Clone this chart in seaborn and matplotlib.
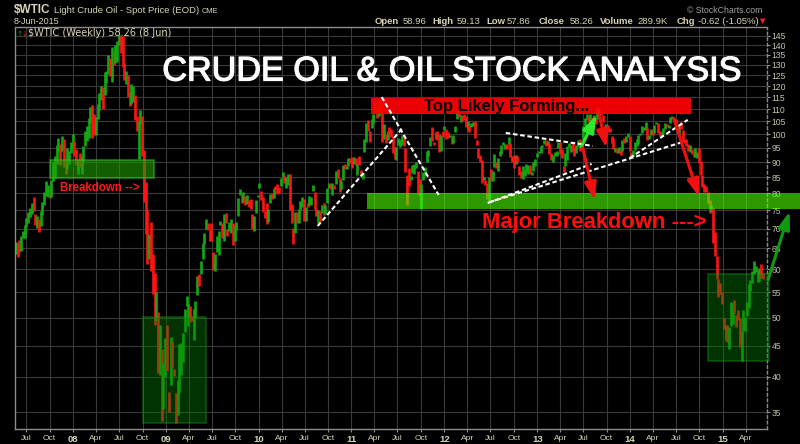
"""
Weekly $WTIC bars (May 2007 - Jun 2015) with the analysis overlay:
support band, top zone, trend lines and arrows.
"""

import numpy as np
import pandas as pd
import matplotlib
matplotlib.use("Agg")
import matplotlib.pyplot as plt
import matplotlib.dates as mdates
import matplotlib.patheffects as pe
from matplotlib.patches import Rectangle
from matplotlib.ticker import FixedLocator, FuncFormatter, NullLocator
import seaborn as sns

# one bar per Monday, 21 May 2007 .. 8 Jun 2015
FIRST_WEEK = "2007-05-21"

week_high = [
    # 2007
    66.5, 66.0, 67.0, 68.1, 69.4, 71.0, 72.9, 74.5, 75.7, 77.2, 78.8, 74.0, 73.5, 72.5, 74.7, 77.5, 80.4,
    83.9, 82.7, 81.7, 84.0, 90.1, 92.2, 96.2, 98.6, 96.5, 99.3, 98.2, 90.3, 94.8, 93.9, 97.0, 100.1,
    # 2008
    97.4, 94.5, 91.0, 93.0, 92.2, 95.8, 101.3, 103.0, 106.5, 111.0, 111.8, 107.9, 106.6, 112.2, 117.0,
    119.9, 119.5, 126.3, 127.0, 135.1, 133.3, 139.1, 136.8, 139.9, 142.0, 145.3, 145.1, 145.2, 131.0,
    127.0, 125.0, 117.5, 121.0, 120.0, 116.1, 107.0, 105.0, 109.5, 107.0, 94.1, 83.5, 75.0, 68.5, 71.9,
    63.5, 59.1, 55.0, 51.0, 48.6, 44.5, 42.1, 46.3,
    # 2009
    48.6, 37.8, 46.5, 45.7, 41.2, 37.6, 39.5, 45.2, 45.5, 47.1, 51.6, 54.3, 52.6, 52.2, 50.3, 51.6, 53.2,
    58.6, 58.9, 62.0, 66.3, 68.8, 72.7, 71.4, 69.7, 71.5, 64.1, 63.6, 68.1, 69.5, 72.0, 71.4, 73.9, 74.4,
    70.0, 71.9, 72.5, 71.6, 70.8, 71.8, 78.5, 81.4, 79.9, 80.4, 79.2, 79.6, 78.0, 78.4, 73.9, 73.4, 78.1,
    79.4,
    # 2010
    83.2, 80.8, 79.0, 74.7, 77.2, 75.3, 79.8, 80.2, 81.5, 82.1, 82.9, 81.9, 84.9, 86.8, 85.8, 85.1, 86.2,
    86.2, 76.8, 70.1, 74.6, 74.6, 75.5, 77.7, 78.9, 78.3, 76.1, 77.1, 79.1, 79.0, 82.6, 80.3, 75.8, 75.2,
    74.9, 76.5, 77.2, 76.5, 81.6, 83.2, 83.0, 83.1, 82.6, 86.9, 87.8, 84.9, 83.9, 89.2, 89.4, 88.6, 91.5,
    91.4,
    # 2011
    91.6, 91.9, 91.4, 89.3, 92.2, 87.5, 86.4, 98.1, 104.4, 105.4, 101.4, 105.8, 107.9, 112.8, 109.9,
    112.3, 113.9, 113.5, 103.9, 100.1, 101.3, 102.7, 101.9, 99.4, 95.4, 95.4, 98.7, 98.1, 99.9, 99.6,
    94.9, 85.7, 87.9, 85.4, 88.9, 89.3, 90.2, 86.9, 84.5, 83.0, 86.8, 88.3, 94.0, 94.3, 99.0, 102.6,
    97.0, 101.0, 101.3, 100.1, 99.7, 101.3,
    # 2012
    103.2, 102.2, 100.7, 99.7, 98.8, 99.8, 103.2, 109.8, 108.8, 107.4, 107.1, 108.1, 107.3, 105.2, 103.6,
    104.2, 104.9, 105.2, 97.9, 94.8, 92.6, 90.8, 85.0, 84.0, 83.3, 85.0, 87.7, 87.1, 92.7, 90.1, 91.4,
    93.7, 96.0, 97.3, 96.5, 96.4, 99.0, 96.6, 92.2, 92.5, 92.4, 92.1, 88.7, 87.1, 88.7, 86.9, 89.3, 88.9,
    89.1, 86.8, 90.1, 91.0, 93.1,
    # 2013
    93.8, 95.6, 96.2, 97.9, 97.8, 97.5, 96.7, 93.1, 92.6, 93.5, 93.7, 97.2, 97.2, 94.6, 88.8, 93.0, 95.6,
    96.6, 96.0, 96.7, 95.0, 96.0, 97.9, 98.4, 97.1, 103.2, 106.5, 108.1, 107.2, 107.9, 106.6, 107.5,
    106.4, 110.1, 110.5, 110.0, 107.4, 103.6, 104.1, 103.5, 102.3, 99.2, 98.7, 95.0, 95.1, 95.4, 94.1,
    97.7, 98.5, 99.3, 100.3, 99.3,
    # 2014
    93.4, 94.4, 97.3, 98.2, 99.9, 100.4, 103.3, 102.8, 104.9, 102.4, 99.7, 102.0, 101.6, 103.7, 104.8,
    104.4, 101.3, 101.0, 102.4, 104.4, 104.1, 103.7, 106.9, 107.3, 106.5, 106.1, 103.5, 103.2, 104.6,
    101.7, 98.3, 98.1, 96.4, 96.0, 94.5, 93.3, 94.9, 93.5, 95.0, 90.3, 85.7, 82.8, 82.2, 80.5, 77.9,
    76.6, 75.8, 69.0, 63.1, 57.9, 57.1, 55.0,
    # 2015
    50.0, 48.7, 48.7, 48.2, 53.1, 52.8, 53.5, 50.5, 51.5, 50.0, 47.5, 51.4, 50.1, 53.0, 56.7, 57.7, 59.6,
    62.0, 60.8, 59.7, 60.3, 61.3, 59.1,
]

week_low = [
    # 2007
    63.6, 62.9, 64.2, 64.3, 67.5, 67.6, 70.5, 71.5, 73.1, 73.9, 74.8, 71.0, 70.1, 69.0, 70.6, 73.7, 76.5,
    79.1, 79.0, 78.6, 79.0, 83.8, 84.8, 89.3, 94.0, 89.1, 94.0, 88.5, 86.2, 87.6, 89.3, 93.1, 95.0,
    # 2008
    92.0, 89.0, 86.1, 88.3, 86.1, 90.0, 95.5, 97.5, 98.7, 104.5, 98.6, 99.6, 99.6, 106.0, 109.6, 114.0,
    109.9, 116.0, 121.6, 125.6, 124.7, 122.0, 130.0, 131.0, 131.4, 140.0, 136.0, 128.9, 122.7, 121.0,
    115.2, 111.3, 112.2, 113.0, 105.5, 101.2, 91.2, 103.8, 92.0, 77.4, 68.6, 61.3, 62.3, 59.6, 54.7,
    48.7, 49.3, 40.5, 40.3, 33.9, 35.4, 39.9,
    # 2009
    40.8, 35.0, 38.7, 41.4, 40.1, 33.6, 34.6, 37.7, 40.2, 42.3, 47.4, 52.2, 48.4, 49.2, 49.4, 45.9, 49.9,
    54.5, 56.3, 59.0, 62.5, 66.1, 70.0, 69.6, 66.9, 66.7, 59.9, 59.7, 64.0, 63.4, 70.9, 67.5, 66.8, 71.4,
    68.0, 69.3, 68.9, 65.9, 66.7, 69.6, 73.3, 79.6, 77.0, 77.4, 76.4, 76.7, 76.0, 75.5, 69.9, 69.5, 74.4,
    78.8,
    # 2010
    81.5, 78.0, 74.5, 72.9, 71.2, 71.9, 77.0, 78.2, 78.7, 81.2, 79.8, 80.0, 82.2, 84.9, 83.2, 81.5, 82.4,
    75.1, 71.6, 66.0, 68.8, 71.5, 71.4, 75.1, 76.1, 72.1, 72.0, 75.9, 76.6, 76.6, 80.7, 75.4, 73.5, 71.6,
    71.9, 74.3, 73.7, 73.9, 77.2, 81.5, 81.3, 79.5, 81.4, 83.0, 84.9, 80.4, 81.3, 84.1, 87.8, 87.7, 88.8,
    89.8,
    # 2011
    88.0, 89.3, 88.9, 85.6, 89.0, 85.6, 84.3, 93.6, 97.0, 101.2, 97.2, 102.3, 104.3, 108.3, 106.3, 107.1,
    112.2, 97.2, 98.2, 96.9, 97.7, 100.2, 98.9, 93.0, 91.0, 90.6, 96.2, 95.2, 95.9, 95.7, 86.6, 76.5,
    82.3, 84.1, 86.5, 86.0, 88.0, 79.9, 79.2, 75.5, 84.2, 85.3, 90.2, 92.2, 95.5, 97.4, 96.2, 98.2, 97.8,
    93.5, 93.9, 98.8,
    # 2012
    101.6, 98.1, 98.5, 99.0, 96.4, 96.9, 100.7, 105.8, 106.6, 104.7, 105.1, 105.4, 102.8, 101.5, 101.0,
    102.7, 103.1, 98.5, 96.1, 91.5, 89.9, 83.2, 84.0, 82.6, 78.2, 77.7, 83.8, 83.9, 88.4, 88.1, 87.1,
    92.2, 92.7, 95.9, 94.6, 94.5, 96.5, 91.9, 90.0, 88.1, 89.3, 90.1, 85.7, 84.9, 84.4, 85.4, 86.8, 85.9,
    85.9, 85.6, 87.2, 88.6, 91.8,
    # 2013
    93.1, 93.3, 95.2, 96.4, 95.7, 95.9, 92.8, 90.7, 90.1, 92.0, 92.1, 94.8, 92.7, 91.3, 86.7, 88.8, 90.7,
    95.2, 93.5, 93.8, 92.0, 93.3, 95.4, 93.7, 95.2, 97.9, 103.1, 105.5, 104.7, 103.9, 104.4, 106.0,
    103.9, 105.9, 107.2, 107.5, 104.7, 102.0, 101.9, 101.0, 100.7, 96.9, 94.6, 93.4, 93.0, 93.3, 92.3,
    93.8, 96.6, 97.2, 98.9, 94.0,
    # 2014
    91.7, 91.8, 94.4, 95.7, 96.4, 99.9, 100.3, 101.8, 101.5, 98.0, 98.1, 99.6, 99.6, 100.4, 103.8, 100.6,
    99.4, 99.5, 100.6, 102.0, 102.7, 102.5, 104.3, 106.0, 105.4, 104.1, 100.8, 100.0, 102.1, 97.2, 96.9,
    95.6, 93.7, 93.4, 92.9, 91.6, 91.6, 91.5, 89.7, 85.8, 81.8, 80.5, 80.5, 77.2, 74.2, 74.6, 66.2, 63.1,
    57.8, 54.1, 54.7, 52.7,
    # 2015
    47.9, 45.9, 45.6, 44.5, 48.5, 48.8, 50.8, 48.2, 49.6, 44.8, 42.5, 47.5, 47.6, 50.4, 51.9, 55.3, 57.0,
    58.9, 59.4, 57.3, 57.5, 58.0, 57.9,
]

week_close = [
    # 2007
    65.2, 65.1, 64.8, 68.0, 69.2, 70.7, 72.8, 74.2, 75.6, 77.0, 75.5, 71.5, 72.0, 71.1, 74.0, 76.7, 79.1,
    81.6, 81.7, 81.2, 83.7, 88.6, 91.9, 95.9, 96.3, 95.1, 98.2, 88.7, 88.3, 91.3, 93.3, 96.0, 97.9,
    # 2008
    92.7, 90.6, 90.7, 89.0, 91.8, 95.5, 98.8, 101.8, 105.2, 110.2, 101.8, 101.6, 106.2, 110.1, 116.7,
    118.5, 116.3, 126.0, 126.3, 132.2, 127.4, 138.5, 134.9, 135.4, 140.2, 145.3, 145.1, 128.9, 123.3,
    125.1, 115.2, 113.8, 114.6, 115.5, 106.2, 101.2, 104.6, 106.9, 93.9, 77.7, 71.9, 64.2, 67.8, 61.0,
    57.0, 49.9, 54.4, 40.8, 46.3, 33.9, 37.7, 46.3,
    # 2009
    40.8, 36.5, 46.5, 41.7, 40.2, 37.5, 38.9, 44.8, 45.5, 46.3, 51.1, 52.4, 52.5, 52.2, 50.3, 51.6, 53.2,
    58.6, 56.3, 61.7, 66.3, 68.4, 72.0, 69.6, 69.2, 66.7, 59.9, 63.6, 68.1, 69.5, 70.9, 67.5, 73.9, 72.7,
    68.0, 69.3, 72.0, 66.0, 70.0, 71.8, 78.5, 80.5, 77.0, 77.4, 76.4, 76.7, 76.1, 75.5, 69.9, 73.4, 78.1,
    79.4,
    # 2010
    82.8, 78.0, 74.5, 72.9, 71.2, 74.1, 79.8, 79.7, 81.5, 81.2, 80.7, 80.0, 84.9, 84.9, 83.2, 85.1, 86.2,
    75.1, 71.6, 70.0, 74.0, 71.5, 73.8, 77.2, 78.9, 72.1, 76.1, 76.0, 79.0, 79.0, 80.7, 75.4, 73.5, 75.2,
    74.6, 76.5, 73.7, 76.5, 81.6, 82.7, 81.3, 81.7, 81.4, 86.9, 84.9, 81.5, 83.8, 89.2, 87.8, 88.0, 91.5,
    91.4,
    # 2011
    88.0, 91.5, 89.1, 89.3, 89.0, 85.6, 86.2, 97.9, 104.4, 101.2, 101.1, 105.4, 107.9, 112.8, 109.7,
    112.3, 113.9, 97.2, 99.7, 99.5, 100.6, 100.2, 99.3, 93.0, 91.2, 94.9, 96.2, 97.2, 99.9, 95.7, 86.9,
    85.4, 82.3, 85.4, 86.5, 87.2, 88.0, 79.9, 79.2, 83.0, 86.8, 87.4, 93.3, 94.3, 99.0, 97.4, 96.8, 101.0,
    99.4, 93.5, 99.7, 98.8,
    # 2012
    101.6, 98.7, 98.5, 99.6, 97.8, 98.7, 103.2, 109.8, 106.7, 107.4, 107.1, 106.9, 103.0, 103.3, 102.8,
    103.1, 104.9, 98.5, 96.1, 91.5, 90.9, 83.2, 84.1, 84.0, 79.8, 85.0, 84.5, 87.1, 91.8, 90.1, 91.4,
    92.9, 96.0, 96.2, 96.5, 96.4, 99.0, 92.9, 92.2, 89.9, 91.9, 90.1, 86.3, 84.9, 86.1, 86.9, 88.3, 88.9,
    85.9, 86.7, 88.7, 90.8, 93.1,
    # 2013
    93.6, 95.6, 95.9, 97.8, 95.7, 95.9, 93.1, 90.7, 92.0, 93.5, 93.7, 97.2, 92.7, 91.3, 88.0, 93.0, 95.6,
    96.0, 96.0, 93.8, 92.0, 96.0, 97.9, 93.7, 96.6, 103.2, 106.0, 108.1, 104.7, 106.9, 106.0, 107.5,
    106.4, 107.7, 110.5, 108.2, 104.7, 102.9, 103.8, 102.0, 100.8, 97.9, 94.6, 94.6, 93.8, 94.8, 92.7,
    97.7, 96.6, 99.3, 100.3, 94.0,
    # 2014
    92.7, 94.4, 96.6, 97.5, 99.9, 100.3, 102.2, 102.6, 102.6, 98.9, 99.5, 101.7, 101.1, 103.7, 104.3,
    100.6, 99.8, 100.0, 102.0, 104.4, 102.7, 102.7, 106.9, 107.3, 105.7, 104.1, 100.8, 103.1, 102.1,
    97.9, 97.7, 97.4, 93.7, 96.0, 93.3, 92.3, 92.4, 93.5, 89.7, 85.8, 82.8, 81.0, 80.5, 78.7, 75.8, 76.5,
    66.2, 65.8, 57.8, 57.1, 54.7, 52.7,
    # 2015
    48.4, 48.7, 45.6, 48.2, 51.7, 52.8, 50.8, 49.8, 49.6, 44.8, 45.7, 48.9, 49.1, 51.6, 55.7, 57.2, 59.2,
    59.4, 59.7, 59.7, 60.3, 59.1, 58.3,
]

price_ticks = list(range(35, 150, 5))

W, H = 800, 444
UP, DOWN = "#14a814", "#ff1414"
CREAM = "#d8d4b6"
FRAME = "#8c8c8c"


def dnum(s):
    return mdates.date2num(pd.Timestamp(s))


sns.set_theme(style="dark", rc={
    "figure.facecolor": "black",
    "axes.facecolor": "black",
    "axes.edgecolor": FRAME,
    "grid.color": "#3a3a3a",
})
plt.rcParams["font.family"] = ["Liberation Sans", "DejaVu Sans"]

fig = plt.figure(figsize=(W / 100, H / 100), dpi=100)
ax = fig.add_axes([15 / W, 1 - 429 / H, 752 / W, 401.5 / H])

weeks = pd.date_range(FIRST_WEEK, periods=len(week_close), freq="7D")
x = mdates.date2num(weeks.to_pydatetime())
close = np.array(week_close)
prev = np.r_[close[0], close[:-1]]
bar_colors = np.where(close >= prev, UP, DOWN)
ax.vlines(x, week_low, week_high, colors=bar_colors, lw=1.9, zorder=2)

ax.set_yscale("log")
ax.set_ylim(32.83, 149.7)
ax.set_xlim(dnum("2007-05-18"), dnum("2015-06-24"))

ax.yaxis.tick_right()
ax.yaxis.set_major_locator(FixedLocator(price_ticks))
ax.yaxis.set_major_formatter(FuncFormatter(lambda v, p: f"{v:.0f}"))
ax.yaxis.set_minor_locator(NullLocator())
ax.tick_params(axis="y", which="major", right=True, left=False, length=2, width=0.8,
               color=FRAME, pad=1.5, labelsize=6.2, labelcolor="#c4c2aa")

quarters = pd.date_range("2007-07-01", "2015-04-01", freq="QS-JAN")
ax.set_xticks(mdates.date2num(quarters.to_pydatetime()))
ax.set_xticklabels([f"{d:%y}" if d.month == 1 else f"{d:%b}" for d in quarters])
ax.tick_params(axis="x", bottom=True, length=2, width=0.8, color=FRAME, pad=2,
               labelsize=6, labelcolor=CREAM)
for lab, d in zip(ax.get_xticklabels(), quarters):
    if d.month == 1:
        lab.set_fontweight("bold")
        lab.set_fontsize(6.8)

ax.grid(True, color="#3a3a3a", lw=0.8)
ax.set_axisbelow(True)
for side in ["left", "bottom", "top", "right"]:
    ax.spines[side].set_color(FRAME)
    ax.spines[side].set_linewidth(1.0)
ax.spines["right"].set_linestyle((0, (2, 2)))


def box(d0, d1, p0, p1, **kw):
    r = Rectangle((dnum(d0), p0), dnum(d1) - dnum(d0), p1 - p0, **kw)
    ax.add_patch(r)


# shaded zones
box("2007-10-03", "2008-11-14", 84.9, 90.7, facecolor="#20a000", alpha=0.6,
    edgecolor="#2fbf2f", lw=1.2, zorder=3)
box("2008-10-01", "2009-06-06", 33.6, 50.1, facecolor="#008000", alpha=0.4,
    edgecolor="#1a9a1a", lw=1.3, zorder=3)
box("2014-11-02", "2015-07-02", 42.4, 58.9, facecolor="#008000", alpha=0.4,
    edgecolor="#1a9a1a", lw=1.3, zorder=3, clip_on=False)
box("2011-03-03", "2015-10-31", 75.3, 80.2, facecolor="#4cff00", alpha=0.6,
    lw=0, zorder=3, clip_on=False)
box("2011-03-18", "2014-08-28", 108.0, 114.7, facecolor="#ff0000", alpha=0.92,
    lw=0, zorder=3)

# trend lines
trend_lines = [
    (("2010-08-21", 70.7), ("2011-07-18", 102.0)),
    (("2011-04-30", 115.1), ("2011-12-10", 79.5)),
    (("2012-08-30", 100.5), ("2013-08-07", 95.7)),
    (("2012-06-20", 77.1), ("2013-08-03", 89.4)),
    (("2012-06-28", 77.4), ("2014-07-27", 97.1)),
    (("2013-12-31", 91.4), ("2014-08-16", 105.6)),
]
for (d0, p0), (d1, p1) in trend_lines:
    ax.plot([dnum(d0), dnum(d1)], [p0, p1], color="white", lw=1.5,
            ls=(0, (2.2, 1.3)), zorder=4)

# arrows
arrows = [
    (("2013-06-24", 95.4), ("2013-08-22", 107.6), "#2ee82e"),
    (("2013-06-29", 95.0), ("2013-08-15", 78.0), "#f01010"),
    (("2013-08-28", 110.0), ("2013-09-30", 95.0), "#f01010"),
    (("2014-06-22", 106.2), ("2014-09-29", 79.0), "#f01010"),
    (("2015-06-28", 57.7), ("2015-09-21", 74.7), "#119a11"),
]
for (d0, p0), (d1, p1), c in arrows:
    ax.annotate("", xy=(dnum(d1), p1), xytext=(dnum(d0), p0), annotation_clip=False,
                arrowprops=dict(arrowstyle="-|>,head_length=0.65,head_width=0.22",
                                mutation_scale=16, lw=2.2, color=c,
                                shrinkA=0, shrinkB=0),
                zorder=5)

ax.text(dnum("2011-10-12"), 109.0, "Top Likely Forming...", color="black",
        fontsize=12, fontweight="bold", ha="left", va="baseline", zorder=6)
ax.text(dnum("2012-05-28"), 70.1, "Major Breakdown --->", color="#ff0d0d",
        fontsize=15.8, fontweight="bold", ha="left", va="baseline", zorder=6)
ax.text(dnum("2007-11-11"), 80.8, "Breakdown -->", color="#ff1a1a",
        fontsize=8.3, fontweight="bold", ha="left", va="baseline", zorder=6)


def ftext(px, py, s, **kw):
    return fig.text(px / W, 1 - py / H, s, va="baseline", **kw)


title = ftext(451, 80.5, "CRUDE OIL & OIL STOCK ANALYSIS", color="white", fontsize=24.6, ha="center")
title.set_path_effects([pe.withStroke(linewidth=0.9, foreground="white")])

# StockCharts header
ftext(14, 13.3, "$WTIC", color=CREAM, fontsize=8.5, fontweight="bold")
ftext(54, 12.8, "Light Crude Oil - Spot Price (EOD)", color=CREAM, fontsize=6.8)
ftext(202, 12.8, "CME", color=CREAM, fontsize=5.3)
ftext(14, 24, "8-Jun-2015", color=CREAM, fontsize=6.5)
ftext(687, 12.7, "\u00a9 StockCharts.com", color="#a0a0a0", fontsize=6.3)
header = [
    (375, "Open", True), (403, "58.96", False), (432.7, "High", True), (456.7, "59.13", False),
    (486, "Low", True), (507, "57.86", False), (539, "Close", True), (570, "58.26", False),
    (600, "Volume", True), (637, "289.9K", False), (676.7, "Chg", True),
    (698, "-0.62 (-1.05%)", False),
]
for px, s, bold in header:
    ftext(px, 24, s, color=CREAM, fontsize=6.8, fontweight="bold" if bold else "normal")
ftext(760, 23, "\u25bc", color="#ff2020", fontsize=5, family="DejaVu Sans")

# little up/down legend icon before the series name
ftext(16, 35.5, "\u2191", color=UP, fontsize=5.2, family="DejaVu Sans")
ftext(21.5, 35.5, "\u2193", color=DOWN, fontsize=5.2, family="DejaVu Sans")
ftext(28.5, 36.3, "$WTIC (Weekly) 58.26 (8 Jun)", color=CREAM, fontsize=7, family="DejaVu Sans")

fig.savefig("out.png", dpi=100, facecolor="black")
